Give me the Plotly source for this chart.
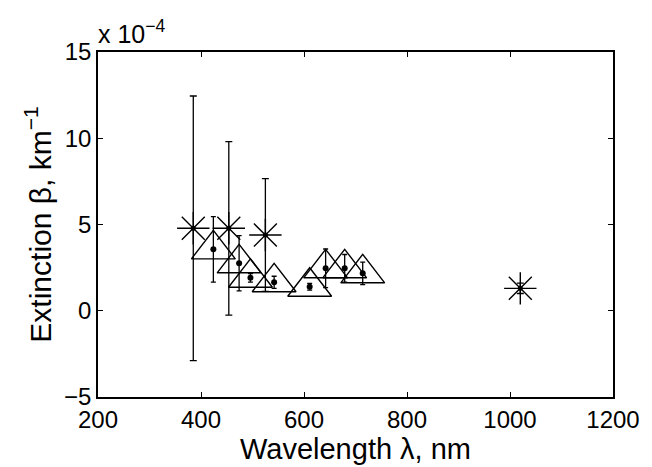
import plotly.graph_objects as go

# Values in units of 1e-4 km^-1
star_wl = [385, 454, 525, 1020]
star_ext = [4.78, 4.78, 4.39, 1.30]
star_err = [7.67, 5.03, 3.27, 0.30]

tri_wl = [424, 474, 496, 542, 611, 642, 679, 714]
tri_ext = [3.56, 2.75, 1.91, 1.65, 1.39, 2.46, 2.46, 2.17]
tri_err = [1.90, 1.60, 0.25, 0.35, 0.20, 1.12, 0.80, 0.65]

x_ticks = [200, 400, 600, 800, 1000, 1200]
y_ticks = [-5, 0, 5, 10, 15]
y_tick_text = ["−5", "0", "5", "10", "15"]

FONT = "Liberation Sans, Arial, Helvetica, sans-serif"

fig = go.Figure()

# asterisk series with error bars
fig.add_trace(go.Scatter(
    x=star_wl, y=star_ext, mode="markers",
    marker=dict(symbol="circle", size=5, color="black"),
    error_y=dict(type="data", array=star_err, visible=True,
                 color="black", thickness=1.3, width=3.5),
    showlegend=False, hoverinfo="skip"))
fig.add_trace(go.Scatter(
    x=star_wl, y=star_ext, mode="markers",
    marker=dict(symbol="asterisk-open", size=27,
                line=dict(color="black", width=1.4), color="black"),
    showlegend=False))

# triangle series with dots and error bars
fig.add_trace(go.Scatter(
    x=tri_wl, y=tri_ext, mode="markers",
    marker=dict(symbol="triangle-up-open", size=38,
                line=dict(color="black", width=1.4), color="black"),
    showlegend=False))
fig.add_trace(go.Scatter(
    x=tri_wl, y=tri_ext, mode="markers",
    marker=dict(symbol="circle", size=6, color="black"),
    error_y=dict(type="data", array=tri_err, visible=True,
                 color="black", thickness=1.3, width=2.5),
    showlegend=False))

axis_common = dict(
    showline=True, linecolor="black", linewidth=1.5, mirror="ticks",
    ticks="inside", ticklen=5, tickwidth=1.2, tickcolor="black",
    showgrid=False, zeroline=False,
    tickfont=dict(family=FONT, size=24, color="black"),
)

fig.update_xaxes(range=[200, 1200], tickvals=x_ticks, **axis_common)
fig.update_yaxes(range=[-5, 15], tickvals=y_ticks, ticktext=y_tick_text,
                 title=dict(text="Extinction β, km<sup>−1</sup>",
                            font=dict(family=FONT, size=30, color="black"),
                            standoff=4),
                 **axis_common)

# x-axis label
fig.add_annotation(
    text="Wavelength λ, nm", xref="paper", yref="paper",
    x=0.5, y=0, xanchor="center", yanchor="bottom", yshift=-70,
    showarrow=False,
    font=dict(family=FONT, size=29, color="black"))

# exponent multiplier
fig.add_annotation(
    text="x 10<sup>−4</sup>", xref="paper", yref="paper",
    x=0, y=1, xanchor="left", yanchor="bottom", xshift=-2, yshift=2,
    showarrow=False,
    font=dict(family=FONT, size=25, color="black"))

# page body has an 8px margin, so the figure is sized/offset to compensate
fig.update_layout(
    width=644, height=459,
    margin=dict(l=90, r=33, t=44, b=70),
    paper_bgcolor="white", plot_bgcolor="white",
    font=dict(family=FONT, color="black"),
)

fig.write_html("out.html")
